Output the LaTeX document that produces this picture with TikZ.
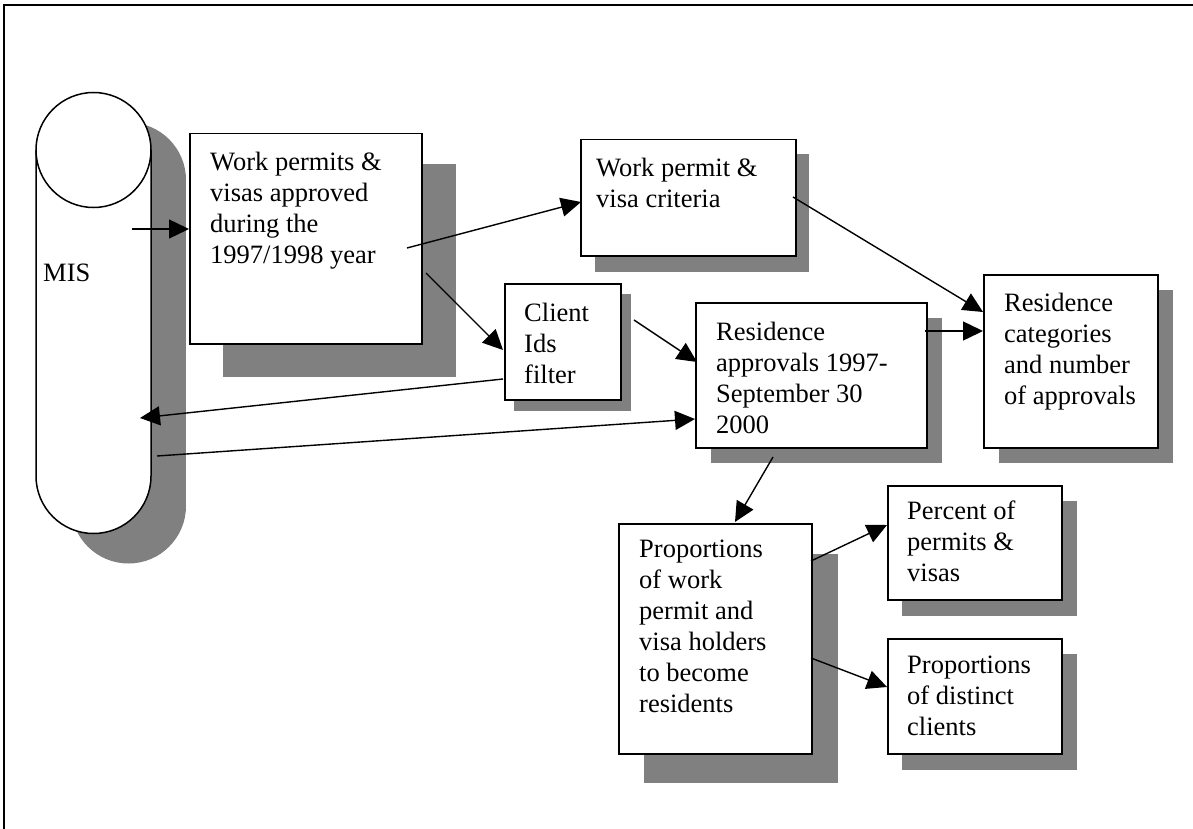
\documentclass[tikz,border=0pt]{standalone}
\usepackage{fontspec}
\setmainfont{Liberation Serif}
\usetikzlibrary{arrows.meta}
\definecolor{shadowgray}{HTML}{808080}
\tikzset{
  box/.style={draw=black, line width=1.5pt, fill=white, rectangle, inner sep=0pt, anchor=north west},
  txt/.style={anchor=north west, inner sep=0pt, align=left, font=\fontsize{26.5pt}{31pt}\selectfont},
  arr/.style={line width=1.4pt, -{Triangle[length=20pt,width=19pt]}},
  frame/.style={line width=1.5pt},
  shadowfill/.style={fill=shadowgray},
}
\begin{document}
\begin{tikzpicture}[x=1pt,y=-1pt]
\useasboundingbox (0,0) rectangle (1193,829);
\draw[frame] (1193,5) -- (4,5) -- (4,829);

% MIS cylinder shadow
\fill[shadowfill] (128.5,180) circle[radius=57.5pt];
\fill[shadowfill] (71,180) rectangle (186,506);
\fill[shadowfill] (128.5,506) circle[radius=57.5pt];
% MIS cylinder
\draw[line width=1.5pt, fill=white] (36,150) -- (36,476)
  .. controls (36,507.8) and (61.7,533.5) .. (93.5,533.5)
  .. controls (125.3,533.5) and (151,507.8) .. (151,476) -- (151,150);
\draw[line width=1.5pt, fill=white] (93.5,150) circle[radius=57.5pt];
\node[txt] (mis) at (43,264) {MIS};

% shadows
\fill[shadowfill] (223,164) rectangle (456,377);
\fill[shadowfill] (595,154) rectangle (809,272);
\fill[shadowfill] (514,294) rectangle (631,411);
\fill[shadowfill] (711,318) rectangle (942,463);
\fill[shadowfill] (999,290) rectangle (1173,463);
\fill[shadowfill] (644,554) rectangle (838,783);
\fill[shadowfill] (902,501) rectangle (1077,616);
\fill[shadowfill] (902,654) rectangle (1077,770);

% boxes
\node[box, minimum width=232pt, minimum height=210pt] (wp) at (189,133) {};
\node[box, minimum width=215pt, minimum height=116pt] (crit) at (580,139) {};
\node[box, minimum width=116pt, minimum height=116pt] (cid) at (504,283) {};
\node[box, minimum width=231pt, minimum height=145pt] (resapp) at (695,302) {};
\node[box, minimum width=174pt, minimum height=173pt] (rescat) at (983,274) {};
\node[box, minimum width=193pt, minimum height=230pt] (prop) at (618,523) {};
\node[box, minimum width=174pt, minimum height=114pt] (pct) at (887,485) {};
\node[box, minimum width=174pt, minimum height=115pt] (dist) at (887,638) {};

% texts
\node[txt] (wpt) at (210,151.5) {Work permits \&\\visas approved\\during the\\1997/1998 year};
\node[txt] (critt) at (596,158) {Work permit \&\\visa criteria};
\node[txt] (cidt) at (524,302.5) {Client\\Ids\\filter};
\node[txt] (resappt) at (716,321.5) {Residence\\approvals 1997-\\September 30\\2000};
\node[txt] (rescatt) at (1004,292.5) {Residence\\categories\\and number\\of approvals};
\node[txt] (propt) at (639,539.5) {Proportions\\of work\\permit and\\visa holders\\to become\\residents};
\node[txt] (pctt) at (907,501) {Percent of\\permits \&\\visas};
\node[txt] (distt) at (907,656) {Proportions\\of distinct\\clients};

% connector ends
\coordinate (m1) at (132,229);   \coordinate (wpin) at (189,229);
\coordinate (wpo1) at (407,248); \coordinate (critin) at (581,202);
\coordinate (wpo2) at (426,273); \coordinate (cidin) at (503,350);
\coordinate (cido1) at (503,379); \coordinate (misin) at (140,418);
\coordinate (m2) at (157,456);   \coordinate (resin1) at (695,419);
\coordinate (cido2) at (634,320); \coordinate (resin2) at (697,362);
\coordinate (reso1) at (925,331); \coordinate (catin1) at (983,331);
\coordinate (crito) at (793,197); \coordinate (catin2) at (983,312);
\coordinate (reso2) at (773,457); \coordinate (propin) at (735,522);
\coordinate (propo1) at (811,561); \coordinate (pctin) at (887,525);
\coordinate (propo2) at (811,658); \coordinate (distin) at (887,687);

\draw[arr] (m1) -- (wpin);
\draw[arr] (wpo1) -- (critin);
\draw[arr] (wpo2) -- (cidin);
\draw[arr] (cido1) -- (misin);
\draw[arr] (m2) -- (resin1);
\draw[arr] (cido2) -- (resin2);
\draw[arr] (reso1) -- (catin1);
\draw[arr] (crito) -- (catin2);
\draw[arr] (reso2) -- (propin);
\draw[arr] (propo1) -- (pctin);
\draw[arr] (propo2) -- (distin);
\end{tikzpicture}
\end{document}
